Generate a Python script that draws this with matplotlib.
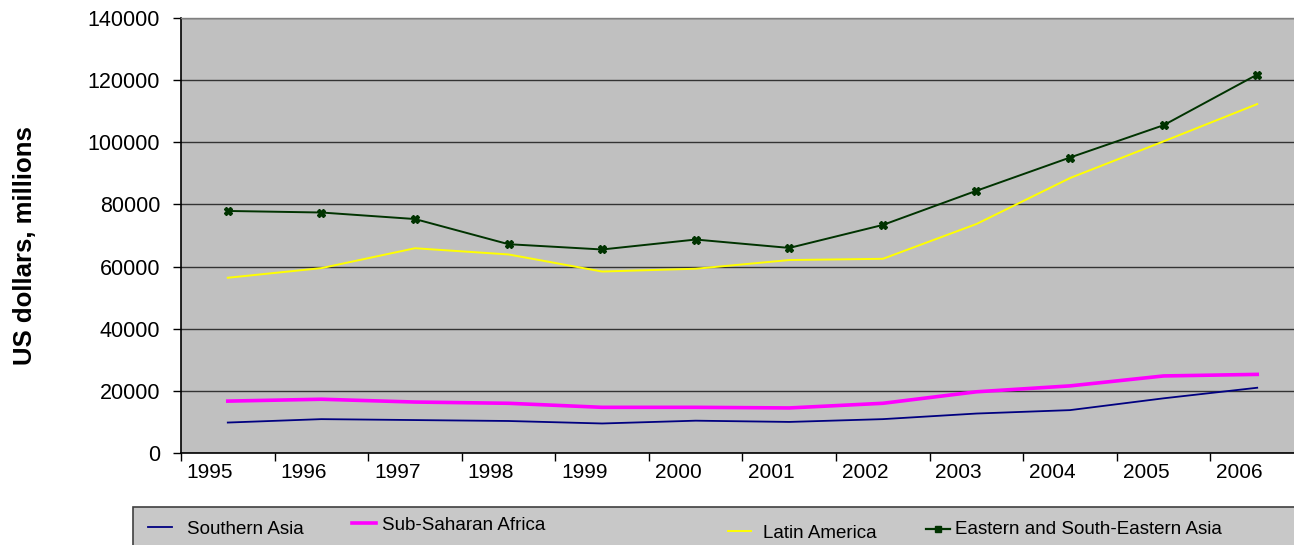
import numpy as np
import matplotlib
matplotlib.use("Agg")
import matplotlib.pyplot as plt
from matplotlib.lines import Line2D
from matplotlib.patches import Rectangle

plt.rcParams['font.family'] = ['Liberation Sans', 'DejaVu Sans']

years = ["1995", "1996", "1997", "1998", "1999", "2000",
         "2001", "2002", "2003", "2004", "2005", "2006"]
southern_asia = [9800, 10900, 10600, 10300, 9500, 10400, 10000, 10900, 12700, 13800, 17600, 21000]
sub_saharan = [16700, 17300, 16400, 16000, 14700, 14700, 14500, 16000, 19700, 21600, 24800, 25300]
latin_america = [56400, 59500, 65900, 63900, 58400, 59300, 62100, 62500, 73700, 88500, 100300, 112300]
east_se_asia = [77900, 77400, 75300, 67200, 65500, 68700, 66000, 73400, 84400, 95100, 105500, 121800]
series_names = ["Southern Asia", "Sub-Saharan Africa", "Latin America", "Eastern and South-Eastern Asia"]
yticks = [0, 20000, 40000, 60000, 80000, 100000, 120000, 140000]

W, H = 1294, 545
fig = plt.figure(figsize=(W / 100, H / 100), dpi=100)
ax = fig.add_axes([181 / W, (H - 453) / H, 1123 / W, 435 / H])
ax.set_facecolor('#C0C0C0')

x = np.arange(len(years))
ax.plot(x, southern_asia, color='#000080', lw=1.3, zorder=3)
ax.plot(x, sub_saharan, color='#FF00FF', lw=2.6, zorder=3)
ax.plot(x, latin_america, color='#FFFF00', lw=1.4, zorder=3)
ax.plot(x, east_se_asia, color='#003300', lw=1.4, marker='X', ms=5.5,
        mfc='#003300', mec='#003300', zorder=4)

ax.set_xlim(-0.5, len(years) - 0.5)
ax.set_ylim(0, 140000)
ax.set_yticks(yticks)
ax.set_yticklabels([str(v) for v in yticks])
ax.yaxis.grid(True, color='#333333', lw=1.0)
ax.set_axisbelow(True)

# category boundary ticks (major) and offset labels (minor)
ax.set_xticks(np.arange(len(years) + 1) - 0.5)
ax.set_xticklabels([])
ax.set_xticks(x - 0.19, minor=True)
ax.set_xticklabels(years, minor=True)
ax.tick_params(axis='x', which='major', length=6, width=1, color='black', direction='out')
ax.tick_params(axis='x', which='minor', length=0, pad=7, labelsize=15)
ax.tick_params(axis='y', length=6, width=1, color='black', direction='out', pad=9, labelsize=15.5)

for s in ['left', 'bottom']:
    ax.spines[s].set_color('black')
    ax.spines[s].set_linewidth(1.2)
for s in ['top', 'right']:
    ax.spines[s].set_color('#808080')
    ax.spines[s].set_linewidth(1.0)

ax.set_ylabel("US dollars, millions", fontsize=18.5, fontweight='bold')
ax.yaxis.set_label_coords((37 - 181) / 1123, (453 - 246) / 435)

# legend box
def fx(px):
    return px / W

def fy(py):
    return (H - py) / H

fig.patches.append(Rectangle((fx(133), fy(560)), fx(1300) - fx(133), fy(507) - fy(560),
                             transform=fig.transFigure, facecolor='#C8C8C8',
                             edgecolor='#404040', lw=1.2))
legend_items = [
    (series_names[0], '#000080', 1.3, None, 148, 172, 527, 187, 529),
    (series_names[1], '#FF00FF', 2.6, None, 352, 376, 523, 382, 525),
    (series_names[2], '#FFFF00', 1.4, None, 728, 751, 531, 763, 533),
    (series_names[3], '#003300', 1.6, 's', 926, 950, 529, 955, 530),
]
for name, col, lw, mk, x0, x1, yl, xt, yt in legend_items:
    ln = Line2D([fx(x0), fx(x1)], [fy(yl), fy(yl)], transform=fig.transFigure,
                color=col, lw=lw)
    fig.lines.append(ln)
    if mk:
        fig.lines.append(Line2D([fx((x0 + x1) / 2)], [fy(yl)], transform=fig.transFigure,
                                color=col, marker=mk, ms=5, ls='none'))
    fig.text(fx(xt), fy(yt), name, fontsize=13.5, va='center', ha='left')

fig.savefig("out.png", dpi=100)
